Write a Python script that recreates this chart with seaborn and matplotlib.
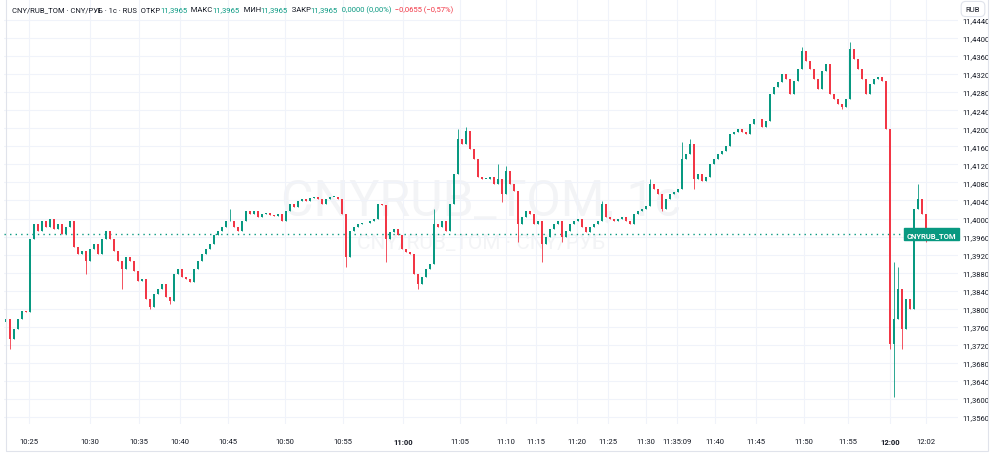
import matplotlib
matplotlib.use("Agg")
import numpy as np
import pandas as pd
import matplotlib.pyplot as plt
import matplotlib.patches as patches
import matplotlib.transforms as mtransforms
import seaborn as sns

# 1-second candles, sampled across the session (close prices, RUB per CNY)
first_open = 11.3770
close = [
    11.3777, 11.3733, 11.3755, 11.3777, 11.3795, 11.3793, 11.3955, 11.3988, 11.3972, 11.3994,
    11.3981, 11.3999, 11.3977, 11.3988, 11.3966, 11.3981, 11.3994, 11.3937, 11.3921, 11.3928,
    11.3906, 11.3932, 11.3944, 11.3921, 11.3955, 11.3972, 11.3955, 11.3928, 11.3906, 11.3888,
    11.3915, 11.3906, 11.3884, 11.3862, 11.3866, 11.3822, 11.3804, 11.3833, 11.3844, 11.3855,
    11.3826, 11.3817, 11.3877, 11.3888, 11.3870, 11.3866, 11.3859, 11.3888, 11.3906, 11.3921,
    11.3932, 11.3944, 11.3963, 11.3972, 11.3981, 11.3994, 11.3994, 11.3981, 11.3972, 11.3994,
    11.4017, 11.4010, 11.4017, 11.4003, 11.4010, 11.4012, 11.4008, 11.4006, 11.4010, 11.3994,
    11.4017, 11.4032, 11.4025, 11.4039, 11.4043, 11.4039, 11.4045, 11.4048, 11.4043, 11.4032,
    11.4043, 11.4048, 11.4048, 11.4043, 11.4010, 11.3915, 11.3972, 11.3981, 11.3988, 11.3990,
    11.3990, 11.3994, 11.3999, 11.4032, 11.4030, 11.3955, 11.3970, 11.3977, 11.3963, 11.3932,
    11.3926, 11.3921, 11.3877, 11.3855, 11.3870, 11.3888, 11.3899, 11.3988, 11.3981, 11.3994,
    11.3972, 11.4032, 11.4099, 11.4176, 11.4165, 11.4194, 11.4154, 11.4132, 11.4092, 11.4088,
    11.4088, 11.4092, 11.4076, 11.4088, 11.4054, 11.4105, 11.4076, 11.4061, 11.3988, 11.4003,
    11.4017, 11.4010, 11.3988, 11.3994, 11.3944, 11.3959, 11.3977, 11.3988, 11.3994, 11.3959,
    11.3972, 11.3988, 11.3994, 11.3999, 11.3981, 11.3970, 11.3981, 11.3988, 11.3994, 11.4032,
    11.4003, 11.3999, 11.3994, 11.3999, 11.4003, 11.3994, 11.3988, 11.4010, 11.4017, 11.4021,
    11.4028, 11.4076, 11.4065, 11.4054, 11.4021, 11.4043, 11.4054, 11.4059, 11.4065, 11.4132,
    11.4143, 11.4165, 11.4088, 11.4099, 11.4083, 11.4092, 11.4121, 11.4132, 11.4143, 11.4150,
    11.4161, 11.4187, 11.4192, 11.4198, 11.4192, 11.4187, 11.4209, 11.4220, 11.4220, 11.4203,
    11.4216, 11.4276, 11.4291, 11.4302, 11.4320, 11.4309, 11.4276, 11.4305, 11.4331, 11.4371,
    11.4349, 11.4331, 11.4309, 11.4287, 11.4327, 11.4342, 11.4276, 11.4265, 11.4254, 11.4247,
    11.4265, 11.4376, 11.4353, 11.4331, 11.4309, 11.4276, 11.4298, 11.4309, 11.4314, 11.4305,
    11.4198, 11.3722, 11.3777, 11.3844, 11.3755, 11.3822, 11.3799, 11.4021, 11.4043, 11.4010,
    11.3965,
]
# wick extremes that stick out beyond the bodies
spike_high = {56: 11.4021, 107: 11.4021, 113: 11.4198, 115: 11.4203, 123: 11.4121,
              125: 11.4116, 149: 11.4039, 161: 11.4088, 169: 11.4170, 171: 11.4176,
              199: 11.4380, 211: 11.4391, 222: 11.3904, 223: 11.3893, 228: 11.4076}
spike_low = {1: 11.3711, 20: 11.3877, 29: 11.3844, 36: 11.3799, 41: 11.3811,
             85: 11.3893, 95: 11.3904, 103: 11.3844, 124: 11.4037, 128: 11.3948,
             134: 11.3904, 139: 11.3948, 164: 11.4017, 172: 11.4065, 209: 11.4243,
             221: 11.3711, 222: 11.3604, 224: 11.3711, 230: 11.3948}

tick_pos = [5.75, 21, 33.25, 43.5, 55.5, 69.75, 84.25, 99.25, 113.5, 125, 132.5,
            142.75, 150.5, 160, 167.75, 177.25, 187.5, 199.5, 210.5, 221, 230]
tick_labels = ['10:25', '10:30', '10:35', '10:40', '10:45', '10:50', '10:55', '11:00',
               '11:05', '11:10', '11:15', '11:20', '11:25', '11:30', '11:35:09', '11:40',
               '11:45', '11:50', '11:55', '12:00', '12:02']
bold_ticks = ['11:00', '12:00']
last_price = 11.3965
price_ticks = np.round(np.arange(11.3560, 11.4441, 0.004), 4)

UP = '#089981'
DOWN = '#f23645'
TEXT = '#131722'
GRID = '#f0f3fa'

df = pd.DataFrame({'close': close})
df['open'] = df['close'].shift(1).fillna(first_open)
df['high'] = df[['open', 'close']].max(axis=1)
df['low'] = df[['open', 'close']].min(axis=1)
for i, v in spike_high.items():
    df.loc[i, 'high'] = max(df.loc[i, 'high'], v)
for i, v in spike_low.items():
    df.loc[i, 'low'] = min(df.loc[i, 'low'], v)
df['color'] = np.where(df['close'] >= df['open'], UP, DOWN)

sns.set_theme(style="white")
plt.rcParams['font.family'] = ['Roboto', 'DejaVu Sans']

W, H = 1000, 460
fig = plt.figure(figsize=(10, 4.6), dpi=100)
ax = fig.add_axes([4 / W, 1 - 425 / H, 954 / W, 425 / H])
ax.set_facecolor('white')

# watermark
ax.text(0.5, 0.527, 'CNYRUB_TOM, 1с', transform=ax.transAxes, ha='center', va='center',
        fontsize=36, color='#f3f4f6', zorder=0)
ax.text(0.5, 0.428, 'CNY/RUB_TOM · CNY/РУБ', transform=ax.transAxes, ha='center',
        va='center', fontsize=15, color='#f3f4f6', zorder=0)

# candles
ax.vlines(df.index, df['low'], df['high'], colors=df['color'], lw=0.6, zorder=2)
body = (df['close'] - df['open']).abs().clip(lower=0.0001)
ax.bar(df.index, body, bottom=df[['open', 'close']].min(axis=1), width=0.38,
       color=df['color'], linewidth=0, zorder=3)

# last price line + label
ax.axhline(last_price, color=UP, lw=1, linestyle=(0, (1, 3)), zorder=1)
trans = mtransforms.blended_transform_factory(ax.transAxes, ax.transData)
ax.text(0.9985, last_price, 'CNYRUB_TOM', transform=trans, ha='right', va='center',
        fontsize=5.5, fontweight='bold', color='white', zorder=5,
        bbox=dict(boxstyle='square,pad=0.35', fc=UP, ec=UP))

ax.set_xlim(-0.5, 238)
ax.set_ylim(11.44 - 386 * 0.0002216, 11.44 + 39 * 0.0002216)
ax.set_xticks(tick_pos)
ax.set_xticklabels(tick_labels)
for lbl in ax.get_xticklabels():
    if lbl.get_text() in bold_ticks:
        lbl.set_fontweight('bold')
ax.set_yticks(price_ticks)
ax.set_yticklabels([f"{v:.4f}".replace('.', ',') for v in price_ticks])
ax.yaxis.tick_right()
ax.tick_params(axis='x', length=0, pad=10, labelsize=5.5, colors=TEXT)
ax.tick_params(axis='y', length=0, pad=3, labelsize=5.5, colors=TEXT)
ax.grid(True, color=GRID, lw=0.8)
ax.set_axisbelow(True)
for s in ax.spines.values():
    s.set_visible(False)

# outer frame of the widget
fig.patches.append(patches.Rectangle((6 / W, 8 / H), 982 / W, 460 / H, fill=False,
                                     ec='#e0e3eb', lw=0.8, transform=fig.transFigure))

# header line
header_parts = [
    ('CNY/RUB_TOM · CNY/РУБ · 1с · RUS  ОТКР', TEXT), ('11,3965', UP),
    ('  МАКС', TEXT), ('11,3965', UP),
    ('  МИН', TEXT), ('11,3965', UP),
    ('  ЗАКР', TEXT), ('11,3965', UP),
    ('  0,0000 (0,00%)', UP), ('  −0,0655 (−0,57%)', DOWN),
]
renderer = fig.canvas.get_renderer()
x = 12
for s, c in header_parts:
    t = fig.text(x / W, 1 - 10 / H, s, color=c, fontsize=5.5, va='center', ha='left')
    bb = t.get_window_extent(renderer=renderer)
    x = bb.x1

fig.text(973 / W, 1 - 10 / H, 'RUB', ha='center', va='center', fontsize=5.5, color=TEXT,
         bbox=dict(boxstyle='round,pad=0.6', fc='white', ec='#e0e3eb', lw=0.8))

fig.savefig('out.png', dpi=100)
